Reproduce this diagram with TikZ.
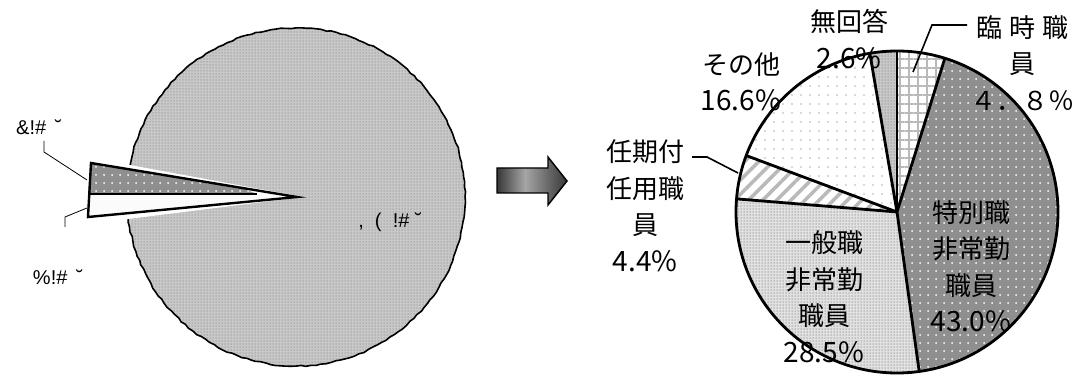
\documentclass[tikz,border=0pt]{standalone}
\usepackage{fontspec}
\setmainfont{Liberation Sans}
\newfontfamily\jp{Noto Sans CJK JP}
\usetikzlibrary{patterns.meta,decorations.pathmorphing}
\pgfdeclarehorizontalshading{arrowshade}{100bp}{%
  color(0bp)=(black!78); color(25bp)=(black!78); color(45bp)=(black!35);
  color(62bp)=(black!60); color(75bp)=(black!78); color(100bp)=(black!78)}
\begin{document}
\begin{tikzpicture}[x=1pt,y=1pt,
  outline/.style={draw=black,line width=2.8pt,line join=round},
  lbl/.style={font=\jp\fontsize{26}{36.5}\selectfont,align=center,inner sep=0pt},
  glbl/.style={font=\fontsize{20}{22}\selectfont,inner sep=0pt},
  leader/.style={draw=black,line width=1.6pt},
  thinleader/.style={draw=black,line width=0.8pt},
  sTokubetsu/.style={fill={rgb,255:red,143;green,143;blue,143},postaction={pattern={Dots[radius=1pt,distance=8pt]},pattern color=white}},
  sIppan/.style={fill={rgb,255:red,225;green,225;blue,225},postaction={pattern={Dots[radius=0.75pt,distance=3pt]},pattern color=gray!75}},
  sNinki/.style={fill=white,postaction={pattern={Lines[angle=45,distance=10pt,line width=3.5pt]},pattern color=gray!55}},
  sSonota/.style={fill=white,postaction={pattern={Dots[radius=0.9pt,distance=9pt]},pattern color=gray!60}},
  sMukaitou/.style={fill={rgb,255:red,200;green,200;blue,200},postaction={pattern={Dots[radius=0.75pt,distance=3pt]},pattern color=gray!80}},
  sRinji/.style={fill=white,postaction={pattern={Hatch[distance=9pt,line width=1.3pt]},pattern color=gray!55}},
  sBig/.style={fill={rgb,255:red,200;green,200;blue,200},postaction={pattern={Dots[radius=0.75pt,distance=3pt]},pattern color=gray!75}},
]
\useasboundingbox (0,0) rectangle (1089,383);
\fill[white] (0,0) rectangle (1089,383);

% ---------- left pie ----------
\coordinate (lc) at (296,186);
\path[sBig] (lc) circle[radius=169pt];
\draw[line width=1.6pt,line join=round,decorate,decoration={random steps,amplitude=0.7pt,segment length=5pt}] (lc) circle[radius=169pt];
% notch
\fill[white] (303,186) -- (100,223.5) -- (100,160.5) -- cycle;
% exploded wedge
\coordinate (wTL) at (91,220);
\coordinate (wTip) at (297,186);
\coordinate (wBL) at (88,166);
\coordinate (wML) at (88,189);
\coordinate (wMR) at (257,189);
\fill[gray!3] (wTL) -- (wTip) -- (wBL) -- cycle;
\path[sTokubetsu] (wTL) -- (240,195.4) -- (wMR) -- (wML) -- cycle;
\draw[line width=2.2pt] (wML) -- (wMR);
\draw[line width=2.4pt,line join=miter] (wTL) -- (wTip) -- (wBL) -- cycle;
% left labels
\node[glbl] (la) at (39,256) {\&!\# \,˘};
\node[glbl] (lb) at (58,106) {\%!\# \,˘};
\node[glbl] (lcbig) at (390,161) {,\ \ (\ \ !\#\ ˘};
\coordinate (la1) at (44,242);
\coordinate (la2) at (44,231);
\coordinate (la3) at (87,203);
\coordinate (lb1) at (87,175);
\coordinate (lb2) at (65,166);
\coordinate (lb3) at (65,156);
\draw[thinleader] (la1) -- (la2) -- (la3);
\draw[thinleader] (lb1) -- (lb2) -- (lb3);

% ---------- arrow ----------
\shade[shading=arrowshade]
  (497,215) -- (548,215) -- (548,226) -- (567,202) -- (548,178) -- (548,190) -- (497,190) -- cycle;
\draw[line width=1.4pt,line join=miter] (497,215) -- (548,215) -- (548,226) -- (567,202) -- (548,178) -- (548,190) -- (497,190) -- cycle;

% ---------- right pie ----------
\coordinate (rc) at (897,171);
\def\R{161pt}
\path[sRinji] (rc) -- ++(90:\R) arc[start angle=90,end angle=72.72,radius=\R] -- cycle;
\path[sTokubetsu] (rc) -- ++(72.72:\R) arc[start angle=72.72,end angle=-82.08,radius=\R] -- cycle;
\path[sIppan] (rc) -- ++(-82.08:\R) arc[start angle=-82.08,end angle=-184.68,radius=\R] -- cycle;
\path[sNinki] (rc) -- ++(-184.68:\R) arc[start angle=-184.68,end angle=-200.52,radius=\R] -- cycle;
\path[sSonota] (rc) -- ++(-200.52:\R) arc[start angle=-200.52,end angle=-260.28,radius=\R] -- cycle;
\path[sMukaitou] (rc) -- ++(-260.28:\R) arc[start angle=-260.28,end angle=-270,radius=\R] -- cycle;
\foreach \a in {90,72.72,-82.08,-184.68,-200.52,-260.28}
  \draw[line width=2.8pt] (rc) -- ++(\a:\R);
\draw[outline] (rc) circle[radius=\R];

% right labels
\node[lbl] (mukaitou) at (849,344) {無回答\\{\fontsize{28}{36.5}\selectfont 2.6\%}};
\node[lbl] (sonota) at (741,301) {その他\\{\fontsize{28}{36.5}\selectfont 16.6\%}};
\node[lbl] (rinji) at (1022,320) {臨\hspace{7pt}時\hspace{7pt}職\\員\\４．８％};
\node[lbl] (ninki) at (645,177) {任期付\\任用職\\員\\{\fontsize{28}{36.5}\selectfont 4.4\%}};
\node[lbl] (tokubetsu) at (971,117) {特別職\\非常勤\\職員\\{\fontsize{28}{36.5}\selectfont 43.0\%}};
\node[lbl] (ippan) at (824,86) {一般職\\非常勤\\職員\\{\fontsize{28}{36.5}\selectfont 28.5\%}};
\coordinate (r1) at (967,358);
\coordinate (r2) at (932,358);
\coordinate (r3) at (913,311);
\draw[leader] (r1) -- (r2) -- (r3);
\coordinate (n1) at (692,226);
\coordinate (n2) at (707,226);
\coordinate (n3) at (738,210);
\draw[leader] (n1) -- (n2) -- (n3);
\end{tikzpicture}
\end{document}
